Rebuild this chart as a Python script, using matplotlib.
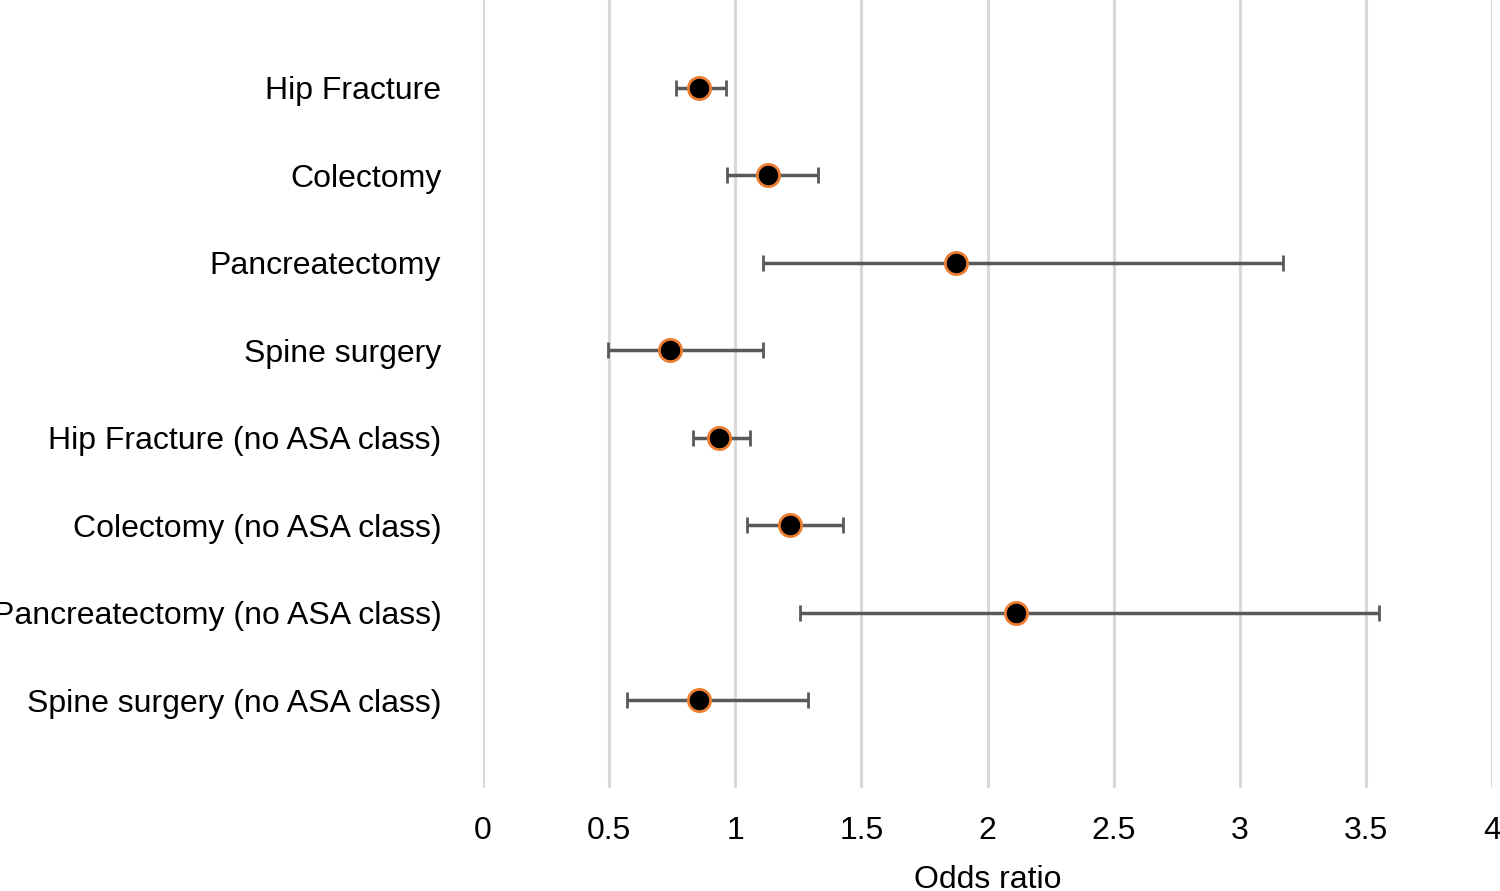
import matplotlib.pyplot as plt
import numpy as np

plt.rcParams['font.family'] = ['Liberation Sans', 'DejaVu Sans']

procedures = ['Hip Fracture', 'Colectomy', 'Pancreatectomy', 'Spine surgery',
              'Hip Fracture (no ASA class)', 'Colectomy (no ASA class)',
              'Pancreatectomy (no ASA class)', 'Spine surgery (no ASA class)']
odds = [0.856, 1.13, 1.875, 0.741, 0.936, 1.217, 2.113, 0.856]
ci_low = [0.765, 0.967, 1.11, 0.496, 0.833, 1.047, 1.257, 0.571]
ci_high = [0.963, 1.328, 3.17, 1.11, 1.058, 1.427, 3.552, 1.288]
xticks = [0, 0.5, 1, 1.5, 2, 2.5, 3, 3.5, 4]

odds = np.array(odds)
err = [odds - np.array(ci_low), np.array(ci_high) - odds]
ypos = np.arange(1, len(procedures) + 1)

fig = plt.figure(figsize=(15, 8.91), dpi=100)
ax = fig.add_axes([0.322, 0.1156, 0.6727, 0.8844])

ax.errorbar(odds, ypos, xerr=err, fmt='o', color='#595959', ecolor='#595959',
            elinewidth=2.5, capsize=6, capthick=2.5,
            markerfacecolor='black', markeredgecolor='#ed7d31',
            markersize=16, markeredgewidth=2, zorder=3)

ax.set_xlim(0, 4)
ax.set_ylim(9, 0)
ax.set_xticks(xticks)
ax.set_xticklabels([('%g' % t) for t in xticks])
ax.set_yticks(ypos)
ax.set_yticklabels(procedures)
ax.tick_params(axis='both', length=0, labelsize=23)
ax.tick_params(axis='x', pad=20)
ax.tick_params(axis='y', pad=30)
ax.grid(axis='x', color='#d9d9d9', linewidth=2.2)
ax.set_axisbelow(True)
for s in ax.spines.values():
    s.set_visible(False)
ax.set_xlabel('Odds ratio', fontsize=23, labelpad=14)

fig.savefig('out.png', dpi=100)
